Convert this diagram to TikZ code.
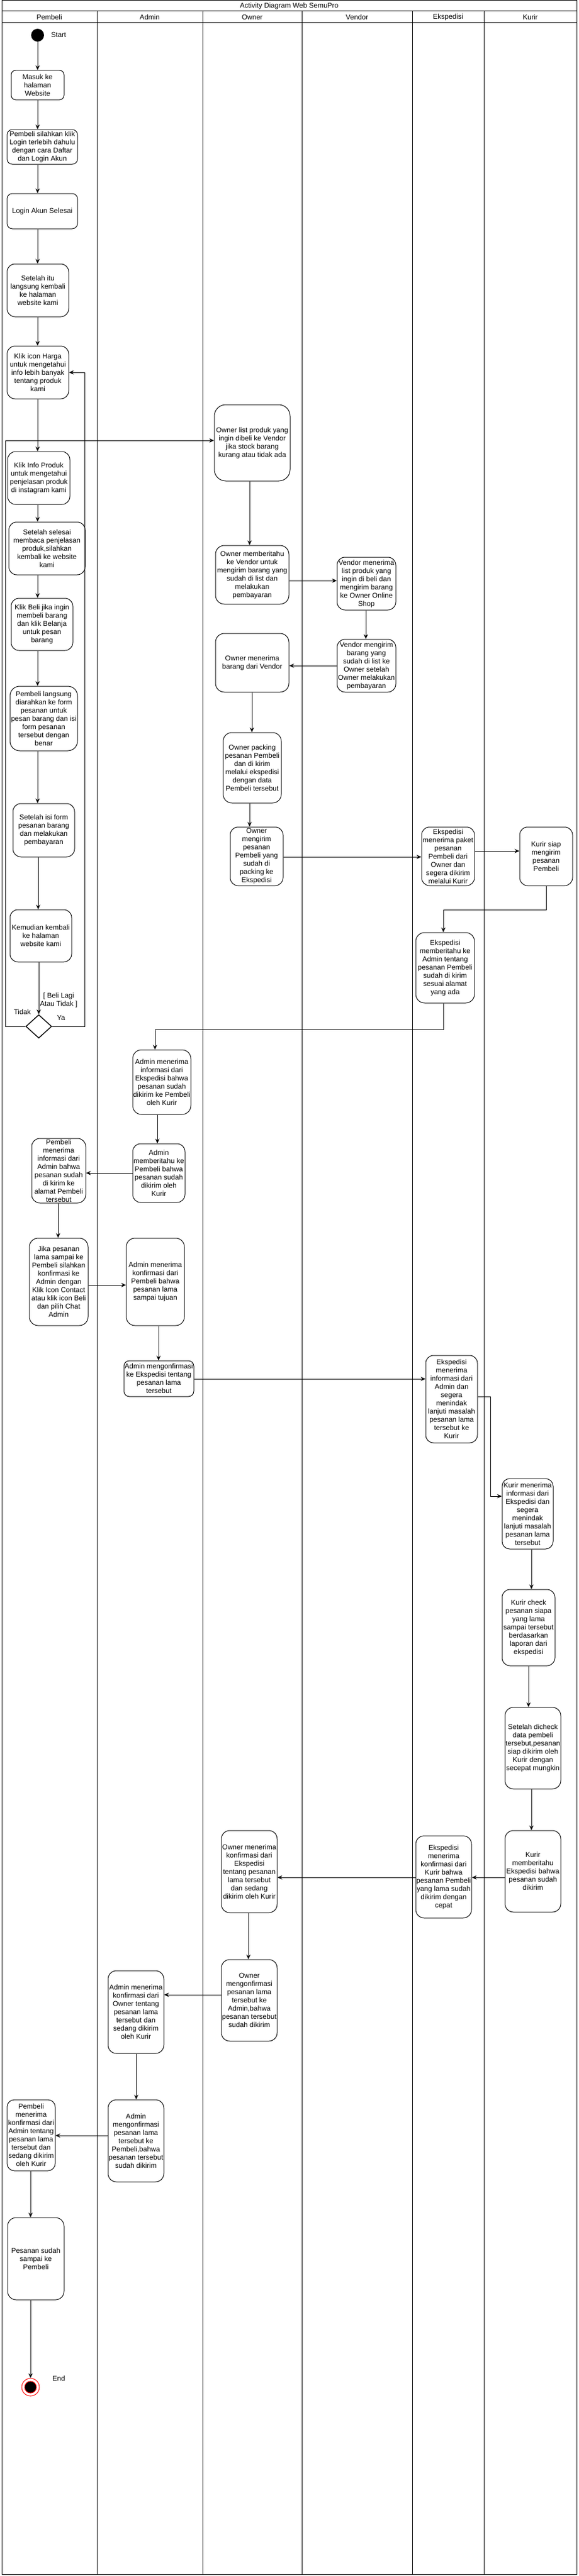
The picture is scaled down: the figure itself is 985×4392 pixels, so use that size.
\documentclass[tikz,border=0pt]{standalone}
\usepackage{fontspec}
\setmainfont{Liberation Sans}
\usetikzlibrary{arrows.meta,shapes.geometric}
\tikzset{
 act/.style={draw, line width=1pt, inner sep=0pt, rectangle},
 txt/.style={align=center, inner sep=0pt, font=\fontsize{12}{14}\selectfont},
 lbl/.style={inner sep=0pt, font=\fontsize{12}{14}\selectfont},
 arr/.style={line width=1pt, -{Stealth[length=8pt,width=7pt]}},
 frameline/.style={line width=1pt},
}
\newcommand\actbox[6]{%
 \pgfmathsetmacro\rc{0.15*min(#4,#5)}%
 \node[act, rounded corners=\rc pt, minimum width=#4pt, minimum height=#5pt] (#1) at (#2,#3) {};%
 \node[txt] (#1-t) at (#1.center) {#6};}
\newcommand\vconn[3]{\draw[arr] (#1.south -| #3,0) -- (#2.north -| #3,0);}
\newcommand\hconnL[3]{\draw[arr] (#1.west |- 0,#3) -- (#2.east |- 0,#3);}
\newcommand\hconnR[3]{\draw[arr] (#1.east |- 0,#3) -- (#2.west |- 0,#3);}
\begin{document}
\begin{tikzpicture}[x=1pt,y=-1pt]
\useasboundingbox (0,0) rectangle (985,4392);
% frame and lanes
\draw[frameline] (3,1) rectangle (982,4389);
\draw[frameline] (3,19) -- (982,19);
\draw[frameline] (3,39) -- (982,39);
\foreach \xx in {165,345,514,702,824} {\draw[frameline] (\xx,19) -- (\xx,4389);}
\node[lbl] (title) at (492.5,10) {Activity Diagram Web SemuPro};
\node[lbl] (lpembeli) at (84,29) {Pembeli};
\node[lbl] (ladmin) at (255,29) {Admin};
\node[lbl] (lowner) at (429.5,29) {Owner};
\node[lbl] (lvendor) at (608,29) {Vendor};
\node[lbl] (lekspedisi) at (763,29) {Ekspedisi};
\node[lbl] (lkurir) at (903,29) {Kurir};

% start
\node[circle, fill=black, minimum size=22pt, inner sep=0pt] (start) at (64,60) {};
\node[lbl, anchor=west] (startl) at (87,59) {Start};

% Pembeli lane
\actbox{masuk}{64}{145}{90}{50}{Masuk ke\\halaman\\Website}
\actbox{silahkan}{72}{250.5}{120}{59}{Pembeli silahkan klik\\Login terlebih dahulu\\dengan cara Daftar\\dan Login Akun}
\actbox{login}{72}{360}{120}{60}{Login Akun Selesai}
\actbox{setelah}{64.5}{495}{105}{90}{Setelah itu\\langsung kembali\\ke halaman\\website kami}
\actbox{harga}{64.5}{635}{105}{90}{Klik icon Harga\\untuk mengetahui\\info lebih banyak\\tentang produk\\kami}
\actbox{info}{66}{815}{106}{90}{Klik Info Produk\\untuk mengetahui\\penjelasan produk\\di instagram kami}
\actbox{selesai}{80}{935}{130}{90}{Setelah selesai\\membaca penjelasan\\produk,silahkan\\kembali ke website\\kami}
\actbox{beli}{71.5}{1064.5}{105}{89}{Klik Beli jika ingin\\membeli barang\\dan klik Belanja\\untuk pesan\\barang}
\actbox{langsung}{74.5}{1225}{115}{110}{Pembeli langsung\\diarahkan ke form\\pesanan untuk\\pesan barang dan isi\\form pesanan\\tersebut dengan\\benar}
\actbox{isiform}{74.5}{1415.5}{105}{91}{Setelah isi form\\pesanan barang\\dan melakukan\\pembayaran}
\actbox{kembali}{69.5}{1595.5}{105}{89}{Kemudian kembali\\ke halaman\\website kami}
\node[draw, diamond, line width=1.5pt, minimum width=44pt, minimum height=40pt, inner sep=0pt] (dec) at (66,1750) {};
\node[txt] (declbl) at (100,1705) {[ Beli Lagi\\Atau Tidak ]};
\node[lbl] (tidak) at (38,1725) {Tidak};
\node[lbl] (ya) at (104,1735) {Ya};

% Owner / Vendor
\actbox{ownerlist}{429.5}{755}{129}{130}{Owner list produk yang\\ingin dibeli ke Vendor\\jika stock barang\\kurang atau tidak ada}
\actbox{ownertahu}{429.5}{980}{125}{100}{Owner memberitahu\\ke Vendor untuk\\mengirim barang yang\\sudah di list dan\\melakukan\\pembayaran}
\actbox{vendterima}{624}{995}{100}{90}{Vendor menerima\\list produk yang\\ingin di beli dan\\mengirim barang\\ke Owner Online\\Shop}
\actbox{vendkirim}{624}{1135}{100}{90}{Vendor mengirim\\barang yang\\sudah di list ke\\Owner setelah\\Owner melakukan\\pembayaran}
\actbox{ownerbarang}{429.5}{1130}{125}{100}{Owner menerima\\barang dari Vendor}
\actbox{packing}{429.5}{1309}{99}{120}{Owner packing\\pesanan Pembeli\\dan di kirim\\melalui ekspedisi\\dengan data\\Pembeli tersebut}
\actbox{ownerkirim}{437}{1460}{90}{100}{Owner\\mengirim\\pesanan\\Pembeli yang\\sudah di\\packing ke\\Ekspedisi}

% Ekspedisi / Kurir
\actbox{ekspaket}{763}{1460}{90}{100}{Ekspedisi\\menerima paket\\pesanan\\Pembeli dari\\Owner dan\\segera dikirim\\melalui Kurir}
\actbox{kurirsiap}{930}{1460}{90}{100}{Kurir siap\\mengirim\\pesanan\\Pembeli}
\actbox{eksptahu}{758}{1650}{100}{120}{Ekspedisi\\memberitahu ke\\Admin tentang\\pesanan Pembeli\\sudah di kirim\\sesuai alamat\\yang ada}

% Admin
\actbox{admininfo}{275.5}{1845}{99}{110}{Admin menerima\\informasi dari\\Ekspedisi bahwa\\pesanan sudah\\dikirim ke Pembeli\\oleh Kurir}
\actbox{admintahu}{270.5}{2000}{89}{100}{Admin\\memberitahu ke\\Pembeli bahwa\\pesanan sudah\\dikirim oleh\\Kurir}
\actbox{pembinfo}{100}{1996}{92}{110}{Pembeli\\menerima\\informasi dari\\Admin bahwa\\pesanan sudah\\di kirim ke\\alamat Pembeli\\tersebut}
\actbox{jika}{100}{2185.5}{100}{149}{Jika pesanan\\lama sampai ke\\Pembeli silahkan\\konfirmasi ke\\Admin dengan\\Klik Icon Contact\\atau klik icon Beli\\dan pilih Chat\\Admin}
\actbox{adminkonf}{264.5}{2185.5}{99}{149}{Admin menerima\\konfirmasi dari\\Pembeli bahwa\\pesanan lama\\sampai tujuan}
\actbox{adminekps}{270.5}{2350.5}{119}{61}{Admin mengonfirmasi\\ke Ekspedisi tentang\\pesanan lama\\tersebut}
\actbox{ekspinfo}{769}{2385.5}{88}{149}{Ekspedisi\\menerima\\informasi dari\\Admin dan\\segera\\menindak\\lanjuti masalah\\pesanan lama\\tersebut ke\\Kurir}
\actbox{kuririnfo}{898.5}{2581}{87}{120}{Kurir menerima\\informasi dari\\Ekspedisi dan\\segera\\menindak\\lanjuti masalah\\pesanan lama\\tersebut}
\actbox{kurircheck}{900}{2775}{90}{130}{Kurir check\\pesanan siapa\\yang lama\\sampai tersebut\\berdasarkan\\laporan dari\\ekspedisi}
\actbox{dicheck}{907.5}{2980.5}{95}{139}{Setelah dicheck\\data pembeli\\tersebut,pesanan\\siap dikirim oleh\\Kurir dengan\\secepat mungkin}
\actbox{kurirtahu}{907.5}{3190.5}{95}{139}{Kurir\\memberitahu\\Ekspedisi bahwa\\pesanan sudah\\dikirim}
\actbox{ekspkonf}{755.5}{3200}{95}{140}{Ekspedisi\\menerima\\konfirmasi dari\\Kurir bahwa\\pesanan Pembeli\\yang lama sudah\\dikirim dengan\\cepat}
\actbox{ownerkonf}{424.5}{3191}{95}{140}{Owner menerima\\konfirmasi dari\\Ekspedisi\\tentang pesanan\\lama tersebut\\dan sedang\\dikirim oleh Kurir}
\actbox{ownermkonf}{424.5}{3410.5}{95}{139}{Owner\\mengonfirmasi\\pesanan lama\\tersebut ke\\Admin,bahwa\\pesanan tersebut\\sudah dikirim}
\actbox{adminowner}{231.5}{3430.5}{95}{141}{Admin menerima\\konfirmasi dari\\Owner tentang\\pesanan lama\\tersebut dan\\sedang dikirim\\oleh Kurir}
\actbox{adminpemb}{231.5}{3650}{95}{140}{Admin\\mengonfirmasi\\pesanan lama\\tersebut ke\\Pembeli,bahwa\\pesanan tersebut\\sudah dikirim}
\actbox{pembkonf}{53}{3640.5}{82}{121}{Pembeli\\menerima\\konfirmasi dari\\Admin tentang\\pesanan lama\\tersebut dan\\sedang dikirim\\oleh Kurir}
\actbox{pesanan}{61}{3851}{96}{140}{Pesanan sudah\\sampai ke\\Pembeli}

% end
\node[circle, draw=red, line width=1pt, minimum size=30pt, inner sep=0pt] (end) at (52,4070) {};
\node[circle, fill=black, draw=red, line width=1pt, minimum size=20pt, inner sep=0pt] (endin) at (end.center) {};
\node[lbl] (endl) at (100,4055) {End};

% connectors: Pembeli main flow
\vconn{start}{masuk}{64}
\vconn{masuk}{silahkan}{64}
\vconn{silahkan}{login}{64}
\vconn{login}{setelah}{64}
\vconn{setelah}{harga}{64}
\vconn{harga}{info}{64}
\vconn{info}{selesai}{64}
\vconn{selesai}{beli}{64}
\vconn{beli}{langsung}{64}
\vconn{langsung}{isiform}{64}
\vconn{isiform}{kembali}{65}
\vconn{kembali}{dec}{66}
% decision branches
\draw[arr] (dec.east) -- (144,1750) -- (144,635) -- (harga.east |- 0,635);
\draw[arr] (dec.west) -- (9,1750) -- (9,751) -- (ownerlist.west |- 0,751);
% Owner / Vendor
\vconn{ownerlist}{ownertahu}{425}
\hconnR{ownertahu}{vendterima}{990}
\vconn{vendterima}{vendkirim}{623}
\hconnL{vendkirim}{ownerbarang}{1135}
\vconn{ownerbarang}{packing}{429}
\vconn{packing}{ownerkirim}{425}
\hconnR{ownerkirim}{ekspaket}{1461}
\hconnR{ekspaket}{kurirsiap}{1451}
\draw[arr] (kurirsiap.south) -- (930,1551) -- (755,1551) -- (eksptahu.north -| 755,0);
\draw[arr] (eksptahu.south -| 755,0) -- (755,1755) -- (264,1755) -- (admininfo.north -| 264,0);
% Admin / Pembeli
\vconn{admininfo}{admintahu}{268}
\hconnL{admintahu}{pembinfo}{2000}
\vconn{pembinfo}{jika}{99}
\hconnR{jika}{adminkonf}{2191}
\vconn{adminkonf}{adminekps}{270}
\hconnR{adminekps}{ekspinfo}{2351}
\draw[arr] (ekspinfo.east |- 0,2381) -- (835,2381) -- (835,2551) -- (kuririnfo.west |- 0,2551);
\vconn{kuririnfo}{kurircheck}{905}
\vconn{kurircheck}{dicheck}{900}
\vconn{dicheck}{kurirtahu}{905}
\hconnL{kurirtahu}{ekspkonf}{3201}
\hconnL{ekspkonf}{ownerkonf}{3201}
\vconn{ownerkonf}{ownermkonf}{423}
\hconnL{ownermkonf}{adminowner}{3401}
\vconn{adminowner}{adminpemb}{232}
\hconnL{adminpemb}{pembkonf}{3641}
\vconn{pembkonf}{pesanan}{52}
\draw[arr] (pesanan.south -| 52,0) -- (end.north);
\end{tikzpicture}
\end{document}
